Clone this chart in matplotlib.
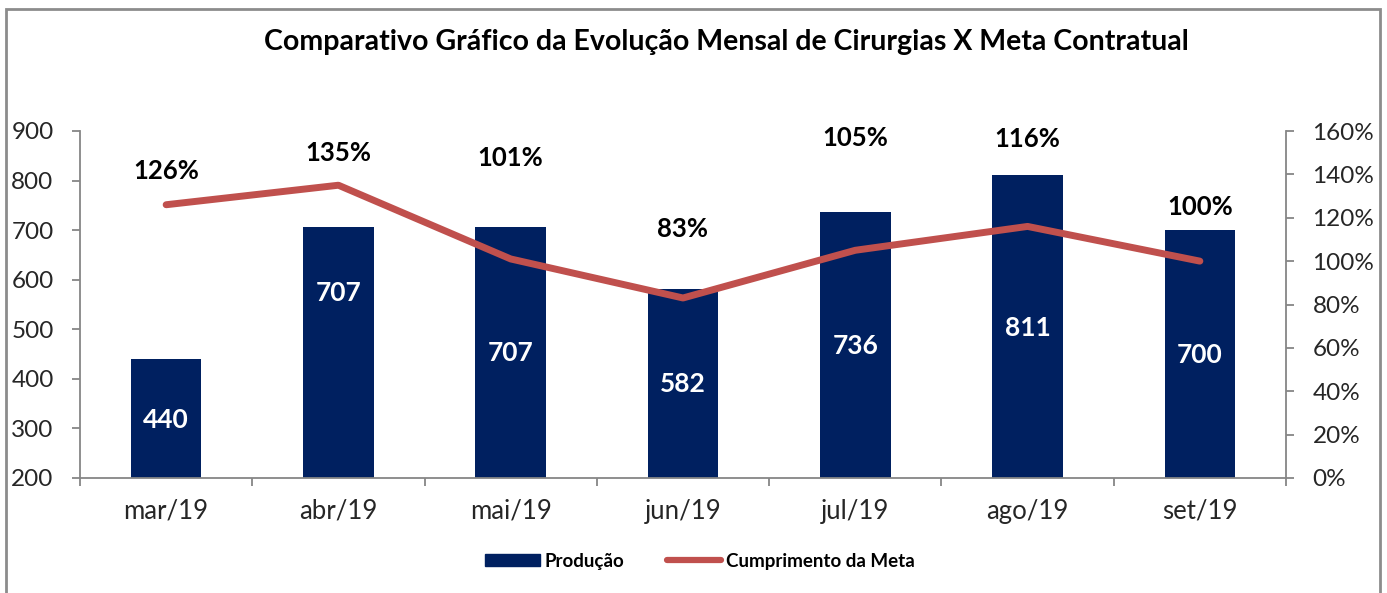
import matplotlib.pyplot as plt
from matplotlib.patches import Rectangle
from matplotlib.lines import Line2D
from matplotlib.ticker import FixedLocator

plt.rcParams["font.family"] = ["Lato", "DejaVu Sans"]

months = ["mar/19", "abr/19", "mai/19", "jun/19", "jul/19", "ago/19", "set/19"]
producao = [440, 707, 707, 582, 736, 811, 700]
meta_pct = [126, 135, 101, 83, 105, 116, 100]

# label positions as in the original (left axis units / right axis %)
bar_label_y = [317, 573, 452, 390, 466, 503, 448]
pct_label_y = [141.5, 149.8, 147.5, 114.7, 156.7, 156.2, 124.9]

BAR_COLOR = "#002060"
LINE_COLOR = "#C0504D"
AXIS_GRAY = "#868686"
TEXT_COLOR = "#262626"


def main() -> None:
    fig = plt.figure(figsize=(13.87, 5.93), dpi=100)
    fig.patches.append(Rectangle((6 / 1387, -0.05), (1380 - 6) / 1387, 1.05 - 9 / 593,
                                 transform=fig.transFigure, fill=False,
                                 edgecolor="#8c8c8c", linewidth=2))

    ax = fig.add_axes([80 / 1387, 1 - 478 / 593, (1286 - 80) / 1387, (478 - 131) / 593])
    x = list(range(len(months)))
    ax.bar(x, producao, width=0.41, color=BAR_COLOR, zorder=2)
    ax.set_ylim(200, 900)
    ax.set_yticks(range(200, 901, 100))
    ax.set_xlim(-0.5, len(months) - 0.5)
    ax.xaxis.set_major_locator(FixedLocator([i - 0.5 for i in range(len(months) + 1)]))
    ax.xaxis.set_major_formatter(plt.NullFormatter())
    ax.xaxis.set_minor_locator(FixedLocator(x))
    ax.set_xticklabels(months, minor=True)
    ax.tick_params(axis="x", which="major", length=6, width=1.3, color=AXIS_GRAY, direction="out")
    ax.tick_params(axis="x", which="minor", length=0, pad=15, labelsize=18.5, labelcolor=TEXT_COLOR)
    ax.tick_params(axis="y", length=6, width=1.3, color=AXIS_GRAY, labelsize=17.5,
                   labelcolor=TEXT_COLOR, pad=13)
    for side in ["top", "right"]:
        ax.spines[side].set_visible(False)
    for side in ["left", "bottom"]:
        ax.spines[side].set_color(AXIS_GRAY)
        ax.spines[side].set_linewidth(1.3)

    for xi, v, ly in zip(x, producao, bar_label_y):
        ax.text(xi, ly, f"{v}", ha="center", va="center", color="white",
                fontsize=19, fontweight="bold", zorder=4)

    ax2 = ax.twinx()
    ax2.plot(x, meta_pct, color=LINE_COLOR, linewidth=5, solid_capstyle="round", zorder=3)
    ax2.set_ylim(0, 160)
    ax2.set_yticks(range(0, 161, 20))
    ax2.set_yticklabels([f"{t}%" for t in range(0, 161, 20)])
    ax2.tick_params(axis="y", length=6, width=1.3, color=AXIS_GRAY, labelsize=17.5,
                    labelcolor=TEXT_COLOR, pad=13)
    for side in ["top", "left", "bottom"]:
        ax2.spines[side].set_visible(False)
    ax2.spines["right"].set_color(AXIS_GRAY)
    ax2.spines["right"].set_linewidth(1.3)

    for xi, p, ly in zip(x, meta_pct, pct_label_y):
        ax2.text(xi, ly, f"{p}%", ha="center", va="center", color="black",
                 fontsize=18.5, fontweight="bold")

    fig.text(0.5236, 1 - 42 / 593, "Comparativo Gráfico da Evolução Mensal de Cirurgias X Meta Contratual",
             ha="center", va="center", fontsize=20.5, fontweight="bold", color="black")

    handles = [Rectangle((0, 0), 1, 1, color=BAR_COLOR),
               Line2D([0], [0], color=LINE_COLOR, linewidth=4.5, solid_capstyle="round")]
    fig.legend(handles, ["Produção", "Cumprimento da Meta"], loc="center",
               bbox_to_anchor=(700 / 1387, 1 - 561 / 593), ncol=2, frameon=False,
               prop={"size": 13.5, "weight": "bold"}, handlelength=2.9, handleheight=0.55,
               handletextpad=0.25, columnspacing=2.3)

    fig.savefig("out.png", dpi=100)
    plt.close(fig)


if __name__ == "__main__":
    main()
